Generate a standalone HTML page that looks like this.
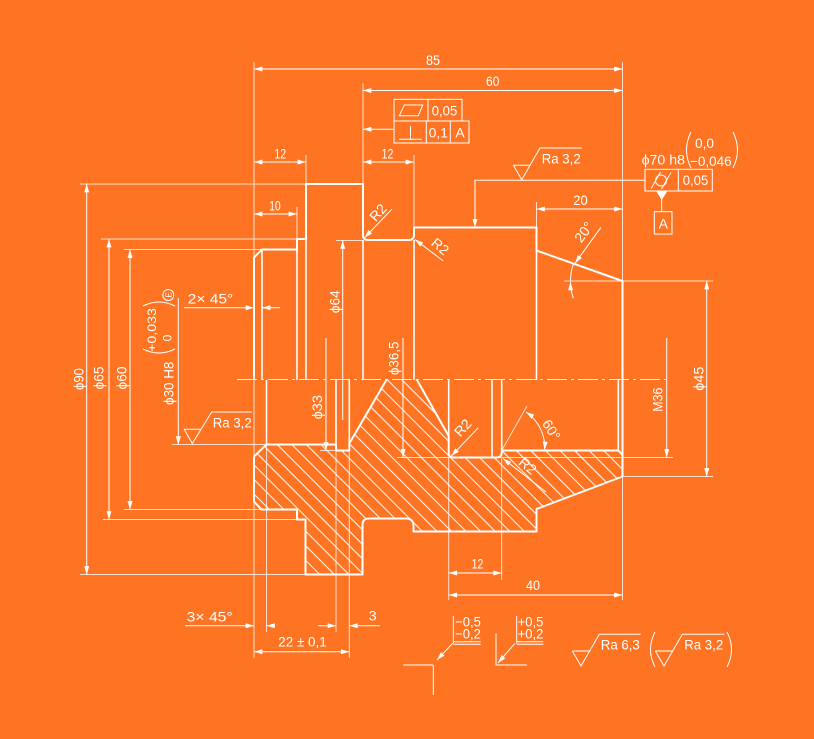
<!DOCTYPE html>
<html><head><meta charset="utf-8"><style>
html,body{margin:0;padding:0;background:#FE7422;}
svg{display:block}
text{font-family:"Liberation Sans",sans-serif;font-size:14px;fill:#fff}
</style></head><body>
<svg width="814" height="739" viewBox="0 0 814 739" xmlns="http://www.w3.org/2000/svg">
<defs>
<marker id="a" viewBox="0 0 10 6" refX="10" refY="3" markerWidth="9" markerHeight="5" markerUnits="userSpaceOnUse" orient="auto-start-reverse"><path d="M0,0L10,3L0,6z" fill="#fff"/></marker>
<pattern id="h" patternUnits="userSpaceOnUse" width="10.3" height="10.3" patternTransform="rotate(45)"><line x1="-1" y1="5" x2="11.3" y2="5" stroke="#fff" stroke-width="1"/></pattern>
</defs>
<rect width="814" height="739" fill="#FE7422"/>

<!-- hatch -->
<path d="M266.5,444.5 L336,444.5 L336,450.5 L349.3,450.5 L349.3,443.5 L386.7,379.5 L416.7,379.5 L448.7,436 L448.7,457.5 L501.7,457.5 L501.7,450.5 L618.3,450.5 L622.5,455 L622.5,476.5 L536.5,509 L536.5,531.5 L413.5,531.5 L413.5,518.5 L362.5,518.5 L362.5,574.5 L305.5,574.5 L305.5,519.5 L297,519.5 L297,509.5 L261.5,509.5 L254,501.5 L254,456.5 Z" fill="url(#h)" stroke="none"/>

<!-- extension / thin lines -->
<g stroke="#fff" stroke-width="1" opacity="0.78" fill="none">
<line x1="254" y1="62" x2="254" y2="658"/>
<line x1="622.5" y1="62" x2="622.5" y2="600"/>
<line x1="363" y1="83" x2="363" y2="184"/>
<line x1="306" y1="155" x2="306" y2="184"/>
<line x1="414" y1="155" x2="414" y2="227.5"/>
<line x1="297" y1="207" x2="297" y2="239"/>
<line x1="80" y1="184" x2="306" y2="184"/>
<line x1="101" y1="239" x2="297" y2="239"/>
<line x1="124" y1="249.5" x2="262" y2="249.5"/>
<line x1="124" y1="509.5" x2="261.5" y2="509.5"/>
<line x1="103" y1="519.5" x2="297" y2="519.5"/>
<line x1="80" y1="574.5" x2="305.5" y2="574.5"/>
<line x1="336" y1="240.5" x2="363" y2="240.5"/>
<line x1="320" y1="450.5" x2="336" y2="450.5"/>
<line x1="172" y1="444.5" x2="266.5" y2="444.5"/>
<line x1="536.5" y1="202" x2="536.5" y2="227.5"/>
<line x1="564" y1="281" x2="713" y2="281"/>
<line x1="622.5" y1="476.5" x2="713" y2="476.5"/>
<line x1="397" y1="457.5" x2="673" y2="457.5"/>
<line x1="266.5" y1="444.5" x2="266.5" y2="632"/>
<line x1="336" y1="450.5" x2="336" y2="632"/>
<line x1="349.3" y1="450.5" x2="349.3" y2="658"/>
<line x1="448.7" y1="457.5" x2="448.7" y2="600"/>
<line x1="501.7" y1="457.5" x2="501.7" y2="580"/>
<line x1="501.7" y1="450.5" x2="527" y2="406"/>
</g>

<!-- centerline -->
<line x1="237" y1="379.5" x2="666" y2="379.5" stroke="#fff" stroke-width="1" stroke-dasharray="20 4 3 4" opacity="0.9"/>

<!-- outlines -->
<g stroke="#fff" stroke-width="2" fill="none" stroke-linejoin="round">
<path d="M254,380 L254,257.5 L262,249.5 L297,249.5 L297,239 L306,239 L306,184 L363,184 L363,235 Q363,240 368,240 L409,240 Q414,240 414,235 L414,227.5 L536.5,227.5 L536.5,250.5 L622.5,281 L622.5,455"/>
<path d="M254,456.5 L254,501.5 L261.5,509.5 L297,509.5 L297,519.5 L305.5,519.5 L305.5,574.5 L362.5,574.5 L362.5,525 Q362.5,518.5 369,518.5 L406,518.5 Q413.5,518.5 413.5,526 L413.5,531.5 L536.5,531.5 L536.5,509 L622.5,476.5 L622.5,455 L618.3,450.5 L501.7,450.5 L501.7,452.5 Q501.7,457.5 496.7,457.5 L453.2,457.5 Q448.7,457.5 448.7,453 L448.7,436 L416.7,379.5"/>
<path d="M254,456.5 L266.5,444.5 L336,444.5 L336,450.5 L349.3,450.5 L349.3,443.5 L386.7,379.5"/>
</g>
<g stroke="#fff" stroke-width="1.6" fill="none">
<line x1="262" y1="249.5" x2="262" y2="380"/>
<line x1="297" y1="249.5" x2="297" y2="380"/>
<line x1="306" y1="239" x2="306" y2="380"/>
<line x1="363" y1="240" x2="363" y2="380"/>
<line x1="414" y1="240" x2="414" y2="380"/>
<line x1="536.5" y1="250.5" x2="536.5" y2="380"/>
<line x1="266.5" y1="380" x2="266.5" y2="444.5"/>
<line x1="336" y1="380" x2="336" y2="444.5"/>
<line x1="349.3" y1="380" x2="349.3" y2="443.5"/>
<line x1="448.7" y1="380" x2="448.7" y2="436"/>
<line x1="492" y1="380" x2="492" y2="457.5"/>
<line x1="501.7" y1="380" x2="501.7" y2="450.5"/>
<line x1="618.3" y1="380" x2="618.3" y2="450.5"/>
</g>

<!-- dimension lines -->
<g stroke="#fff" stroke-width="1" fill="none">
<line x1="254" y1="69" x2="622.5" y2="69" marker-start="url(#a)" marker-end="url(#a)"/>
<line x1="363" y1="90.5" x2="622.5" y2="90.5" marker-start="url(#a)" marker-end="url(#a)"/>
<line x1="254" y1="162" x2="306" y2="162" marker-start="url(#a)" marker-end="url(#a)"/>
<line x1="363" y1="162" x2="414" y2="162" marker-start="url(#a)" marker-end="url(#a)"/>
<line x1="254" y1="214" x2="297" y2="214" marker-start="url(#a)" marker-end="url(#a)"/>
<line x1="536.5" y1="209" x2="622.5" y2="209" marker-start="url(#a)" marker-end="url(#a)"/>
<line x1="86.7" y1="184" x2="86.7" y2="574.5" marker-start="url(#a)" marker-end="url(#a)"/>
<line x1="109" y1="239" x2="109" y2="519.5" marker-start="url(#a)" marker-end="url(#a)"/>
<line x1="130" y1="249.5" x2="130" y2="509.5" marker-start="url(#a)" marker-end="url(#a)"/>
<line x1="178.3" y1="298" x2="178.3" y2="444.5" marker-end="url(#a)"/>
<line x1="342.7" y1="420" x2="342.7" y2="240.5" marker-end="url(#a)"/>
<line x1="326" y1="338" x2="326" y2="450.5" marker-end="url(#a)"/>
<line x1="403" y1="338" x2="403" y2="457.5" marker-end="url(#a)"/>
<line x1="666.7" y1="338" x2="666.7" y2="457.5" marker-end="url(#a)"/>
<line x1="706.7" y1="281" x2="706.7" y2="476.5" marker-start="url(#a)" marker-end="url(#a)"/>
<line x1="448.7" y1="573" x2="501.7" y2="573" marker-start="url(#a)" marker-end="url(#a)"/>
<line x1="448.7" y1="595" x2="622.5" y2="595" marker-start="url(#a)" marker-end="url(#a)"/>
<line x1="254" y1="651.7" x2="349.3" y2="651.7" marker-start="url(#a)" marker-end="url(#a)"/>
<line x1="184" y1="307.7" x2="254" y2="307.7" marker-end="url(#a)"/>
<line x1="280" y1="307.7" x2="262" y2="307.7" marker-end="url(#a)"/>
<line x1="185" y1="625.7" x2="254" y2="625.7" marker-end="url(#a)"/>
<line x1="275" y1="625.7" x2="266.5" y2="625.7" marker-end="url(#a)"/>
<line x1="318" y1="625.7" x2="336" y2="625.7" marker-end="url(#a)"/>
<line x1="380" y1="625.7" x2="349.3" y2="625.7" marker-end="url(#a)"/>
<line x1="394" y1="129.3" x2="363" y2="129.3" marker-end="url(#a)"/>
<path d="M645,180.3 L475,180.3 L475,227.5" marker-end="url(#a)"/>
<line x1="391.7" y1="209.3" x2="364.5" y2="237.8" marker-end="url(#a)"/>
<line x1="443.3" y1="261" x2="415" y2="239.5" marker-end="url(#a)"/>
<line x1="478.3" y1="427.7" x2="451.3" y2="456" marker-end="url(#a)"/>
<line x1="546" y1="492" x2="503" y2="458.5" marker-end="url(#a)"/>
<line x1="600.7" y1="227.7" x2="575" y2="263.3" marker-end="url(#a)"/>
<path d="M573.3,298.3 A52,52 0 0 1 570.5,282" marker-end="url(#a)"/>
<path d="M573.5,263.6 A52,52 0 0 0 570.5,281"/>
<path d="M526,412 A43,43 0 0 1 544.7,450" marker-start="url(#a)" marker-end="url(#a)"/>
</g>

<!-- feature control frame -->
<g stroke="#fff" stroke-width="1" fill="none">
<rect x="394" y="99.3" width="68" height="21.7"/>
<line x1="428" y1="99.3" x2="428" y2="121"/>
<rect x="394" y="121" width="75" height="22"/>
<line x1="426.3" y1="121" x2="426.3" y2="143"/>
<line x1="450.3" y1="121" x2="450.3" y2="143"/>
<path d="M399.3,115.7 L418.3,115.7 L422.7,105 L404.3,105 Z"/>
<line x1="410.5" y1="126" x2="410.5" y2="139.3"/>
<line x1="399" y1="139.3" x2="421.7" y2="139.3"/>
<!-- runout frame -->
<rect x="645" y="169.3" width="67.3" height="21.7"/>
<line x1="678.3" y1="169.3" x2="678.3" y2="191"/>
<circle cx="661" cy="180.5" r="5.5"/>
<line x1="651.2" y1="188.5" x2="660.5" y2="172"/>
<line x1="661.5" y1="189" x2="671" y2="172.5"/>
<line x1="661.7" y1="199" x2="661.7" y2="211.7"/>
<rect x="654.3" y="211.7" width="17.7" height="22.3"/>
<!-- Ra symbols -->
<path d="M513.4,165.3 L530,165.3 M513.4,165.3 L521.7,179.8 L540,148 L582,148"/>
<path d="M184.1,429.3 L200.5,429.3 M184.1,429.3 L192.3,443.5 L211.7,412 L252,412"/>
<path d="M572.3,651 L589.7,651 M572.3,651 L581,666 L599.3,634.3 L640.7,634.3"/>
<path d="M655.3,651 L672.7,651 M655.3,651 L664,666 L682.3,634.3 L724.3,634.3"/>
<!-- parens -->
<path d="M691,132 Q682,150 691,168"/>
<path d="M733,132 Q742,150 733,168"/>
<path d="M655,632 Q646,649.5 655,667"/>
<path d="M727,632 Q736,649.5 727,667"/>
<path d="M143,306 Q159,298 175,306"/>
<path d="M143,349 Q159,357 175,349"/>
<circle cx="168.3" cy="295" r="5.5"/>
<!-- bottom symbols -->
<path d="M403.3,665 L433.3,665 M433.3,665 L433.3,695"/>
<line x1="452.7" y1="643.3" x2="437" y2="660" marker-end="url(#a)"/>
<path d="M453.3,616 L453.3,643.5 M453.3,641.7 L480.7,641.7 M453.3,644.3 L480.7,644.3"/>
<path d="M496,633.3 L496,665 L526.7,665"/>
<line x1="515" y1="643.3" x2="498" y2="663" marker-end="url(#a)"/>
<path d="M516.7,616 L516.7,643.5 M516.7,641.7 L543.3,641.7 M516.7,644.3 L543.3,644.3"/>
</g>
<polygon points="656,191 667.4,191 661.7,200" fill="#fff"/>

<!-- texts -->
<g text-anchor="middle">
<text x="433" y="65" textLength="14" lengthAdjust="spacingAndGlyphs">85</text>
<text x="492.7" y="86" textLength="13.3" lengthAdjust="spacingAndGlyphs">60</text>
<text x="444.5" y="115.7" textLength="25.6" lengthAdjust="spacingAndGlyphs">0,05</text>
<text x="438.3" y="137.7" textLength="19" lengthAdjust="spacingAndGlyphs">0,1</text>
<text x="460" y="137.7">A</text>
<text x="280.2" y="158.3" textLength="11.7" lengthAdjust="spacingAndGlyphs">12</text>
<text x="387.5" y="158.3" textLength="11.7" lengthAdjust="spacingAndGlyphs">12</text>
<text x="275" y="210.5" textLength="11.4" lengthAdjust="spacingAndGlyphs">10</text>
<text x="561.2" y="163.3" textLength="39" lengthAdjust="spacingAndGlyphs">Ra 3,2</text>
<text x="663.3" y="164.5" textLength="43.3" lengthAdjust="spacingAndGlyphs">ϕ70 h8</text>
<text x="704.5" y="148" textLength="19" lengthAdjust="spacingAndGlyphs">0,0</text>
<text x="710.8" y="166" textLength="41.7" lengthAdjust="spacingAndGlyphs">−0,046</text>
<text x="695.5" y="185" textLength="25.6" lengthAdjust="spacingAndGlyphs">0,05</text>
<text x="663.3" y="228.3">A</text>
<text x="580.5" y="205" textLength="14.4" lengthAdjust="spacingAndGlyphs">20</text>
<text x="210.5" y="303.3" textLength="45.6" lengthAdjust="spacingAndGlyphs">2× 45°</text>
<text x="232.2" y="427.3" textLength="39" lengthAdjust="spacingAndGlyphs">Ra 3,2</text>
<text x="477.5" y="568.3" textLength="11.7" lengthAdjust="spacingAndGlyphs">12</text>
<text x="533" y="590" textLength="14" lengthAdjust="spacingAndGlyphs">40</text>
<text x="209.7" y="621.7" textLength="46" lengthAdjust="spacingAndGlyphs">3× 45°</text>
<text x="302.5" y="646.7" textLength="48.4" lengthAdjust="spacingAndGlyphs">22 ± 0,1</text>
<text x="372.7" y="620.7">3</text>
<text x="468" y="626.7" textLength="25.7" lengthAdjust="spacingAndGlyphs">−0,5</text>
<text x="468" y="638.3" textLength="25.7" lengthAdjust="spacingAndGlyphs">−0,2</text>
<text x="530.5" y="626.7" textLength="25.7" lengthAdjust="spacingAndGlyphs">+0,5</text>
<text x="530.5" y="638.3" textLength="25.7" lengthAdjust="spacingAndGlyphs">+0,2</text>
<text x="620.3" y="649.5" textLength="39" lengthAdjust="spacingAndGlyphs">Ra 6,3</text>
<text x="703.7" y="649.5" textLength="39" lengthAdjust="spacingAndGlyphs">Ra 3,2</text>

<!-- rotated -->
<text transform="translate(83.3,379) rotate(-90)" textLength="22" lengthAdjust="spacingAndGlyphs">ϕ90</text>
<text transform="translate(103.3,378) rotate(-90)" textLength="23" lengthAdjust="spacingAndGlyphs">ϕ65</text>
<text transform="translate(126.7,378) rotate(-90)" textLength="23" lengthAdjust="spacingAndGlyphs">ϕ60</text>
<text transform="translate(173.3,383.3) rotate(-90)" textLength="43.3" lengthAdjust="spacingAndGlyphs">ϕ30 H8</text>
<text transform="translate(156,330) rotate(-90)" style="font-size:12px" textLength="43.7" lengthAdjust="spacingAndGlyphs">+0,033</text>
<text transform="translate(171.5,338) rotate(-90)" style="font-size:12px">0</text>
<text transform="translate(171.5,295) rotate(-90)" style="font-size:8px">E</text>
<text transform="translate(339.3,301.7) rotate(-90)" textLength="23" lengthAdjust="spacingAndGlyphs">ϕ64</text>
<text transform="translate(398.3,358.3) rotate(-90)" textLength="33.3" lengthAdjust="spacingAndGlyphs">ϕ36,5</text>
<text transform="translate(322,407.2) rotate(-90)" textLength="24.3" lengthAdjust="spacingAndGlyphs">ϕ33</text>
<text transform="translate(662.3,399.7) rotate(-90)" textLength="24" lengthAdjust="spacingAndGlyphs">M36</text>
<text transform="translate(703.3,378.7) rotate(-90)" textLength="24" lengthAdjust="spacingAndGlyphs">ϕ45</text>

<text transform="translate(378.3,212.7) rotate(-48)" y="4.5">R2</text>
<text transform="translate(440,246.7) rotate(40)" y="4.5">R2</text>
<text transform="translate(463,428) rotate(-48)" y="4.5">R2</text>
<text transform="translate(527.5,466) rotate(40)" y="4.5">R2</text>
<text transform="translate(584,232.3) rotate(-54)" y="4.5">20°</text>
<text transform="translate(551,430) rotate(58)" y="4.5">60°</text>
</g>
</svg>
</body></html>
